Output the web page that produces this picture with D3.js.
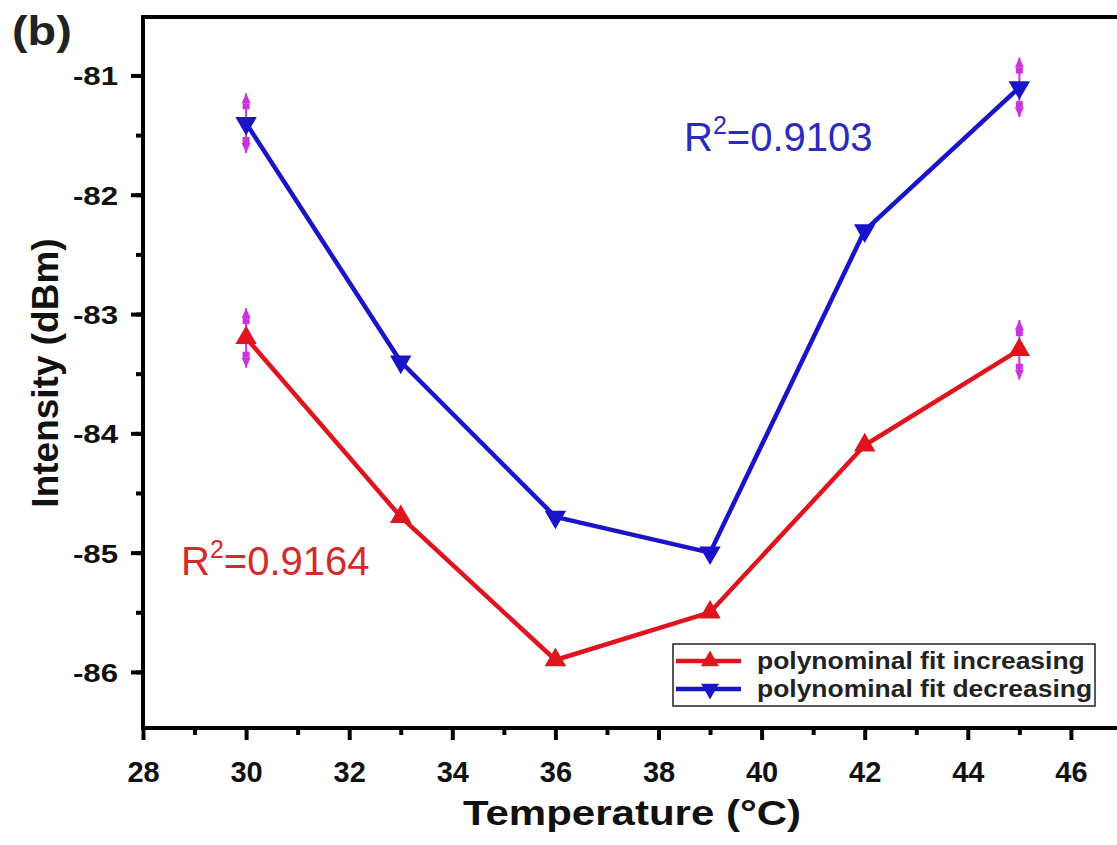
<!DOCTYPE html>
<html>
<head>
<meta charset="utf-8">
<script src="https://cdn.jsdelivr.net/npm/d3@7"></script>
<style>
  body { margin: 0; background: #fff; }
  svg { display: block; font-family: "Liberation Sans", Arial, sans-serif; }
</style>
</head>
<body>
<svg id="chart"></svg>
<script>
var temps = [30, 33, 36, 39, 42, 45];
var increasing = [-83.2, -84.7, -85.9, -85.5, -84.1, -83.3];
var decreasing = [-81.4, -83.4, -84.7, -85.0, -82.3, -81.1];
// error bars only on the end points
var errIdx = [0, 5];
var errSize = 0.25;
var xTicks = [28, 30, 32, 34, 36, 38, 40, 42, 44, 46];
var yTicks = [-81, -82, -83, -84, -85, -86];

var width = 1117, height = 845;
var svg = d3.select('#chart').attr('width', width).attr('height', height);

var x = d3.scaleLinear().domain([28, 48]).range([143, 1174]);
var y = d3.scaleLinear().domain([-86.47, -80.51]).range([728, 17]);

var red = '#e0141e', blue = '#1a14c8', mag = '#cc33dd';

// widen text horizontally (the original is a bit stretched)
function stretch(sel, f) {
    sel.each(function () {
        var L = this.getComputedTextLength();
        d3.select(this).attr('textLength', L * f).attr('lengthAdjust', 'spacingAndGlyphs');
    });
}

// frame
svg.append('rect')
    .attr('x', x(28)).attr('y', y(-80.51))
    .attr('width', x(48) - x(28)).attr('height', y(-86.47) - y(-80.51))
    .attr('fill', 'none').attr('stroke', '#000').attr('stroke-width', 4);

// axes
var xAxis = svg.append('g').attr('transform', 'translate(0,' + y(-86.47) + ')')
    .call(d3.axisBottom(x).tickValues(xTicks).tickSize(12).tickFormat(d => d));
var xMinor = svg.append('g').attr('transform', 'translate(0,' + y(-86.47) + ')')
    .call(d3.axisBottom(x).tickValues(d3.range(29, 48, 2)).tickSize(7).tickFormat(''));

var yAxis = svg.append('g').attr('transform', 'translate(' + x(28) + ',0)')
    .call(d3.axisLeft(y).tickValues(yTicks).tickSize(12).tickFormat(d => d));
var yMinor = svg.append('g').attr('transform', 'translate(' + x(28) + ',0)')
    .call(d3.axisLeft(y).tickValues(d3.range(-86, -80.6, 0.5)).tickSize(7).tickFormat(''));

[xAxis, xMinor, yAxis, yMinor].forEach(g => {
    g.select('.domain').remove();
    g.selectAll('line').attr('stroke', '#000').attr('stroke-width', 4);
    g.selectAll('text').attr('font-weight', 'bold').attr('fill', '#111');
});
xAxis.selectAll('text').attr('font-size', 29).attr('y', 0).attr('dy', 0)
    .attr('transform', 'translate(0,54)');
yAxis.selectAll('text').attr('font-size', 26).attr('x', -25).attr('dy', '0.36em');
stretch(yAxis.selectAll('text'), 1.2);

// axis titles
var xt = svg.append('text')
    .attr('x', 632).attr('y', 825)
    .attr('text-anchor', 'middle')
    .attr('font-size', 35).attr('font-weight', 'bold').attr('fill', '#111')
    .text('Temperature (°C)');
stretch(xt, 1.2);
svg.append('text')
    .attr('transform', 'translate(58,373) rotate(-90)')
    .attr('text-anchor', 'middle')
    .attr('font-size', 37).attr('font-weight', 'bold').attr('fill', '#111')
    .text('Intensity (dBm)');

var bl = svg.append('text')
    .attr('x', 12).attr('y', 45)
    .attr('font-size', 40).attr('font-weight', 'bold').attr('fill', '#222')
    .text('(b)');
stretch(bl, 1.17);

var line = d3.line().x((d, i) => x(temps[i])).y(d => y(d));

function drawSeries(vals, color, up) {
    svg.append('path')
        .datum(vals)
        .attr('d', line)
        .attr('fill', 'none').attr('stroke', color).attr('stroke-width', 4.5)
        .attr('stroke-linejoin', 'round');

    // error bars
    errIdx.forEach(i => {
        var cx = x(temps[i]);
        var y1 = y(vals[i] + errSize), y2 = y(vals[i] - errSize);
        var g = svg.append('g').attr('fill', mag).attr('stroke', mag);
        g.append('line').attr('x1', cx).attr('x2', cx).attr('y1', y1).attr('y2', y2).attr('stroke-width', 2);
        g.append('path').attr('stroke', 'none')
            .attr('d', 'M' + cx + ',' + y1 + 'l-4.5,10l9,0z');
        g.append('path').attr('stroke', 'none')
            .attr('d', 'M' + cx + ',' + y2 + 'l-4.5,-10l9,0z');
        g.append('rect').attr('stroke', 'none').attr('x', cx - 3.5).attr('y', y1 + 10).attr('width', 7).attr('height', 6);
        g.append('rect').attr('stroke', 'none').attr('x', cx - 3.5).attr('y', y2 - 16).attr('width', 7).attr('height', 6);
    });

    var sym = d3.symbol().type(d3.symbolTriangle).size(200);
    svg.selectAll(null)
        .data(vals)
        .enter()
        .append('path')
        .attr('d', sym)
        .attr('transform', (d, i) => 'translate(' + x(temps[i]) + ',' + y(d) + ')' + (up ? '' : ' rotate(180)'))
        .attr('fill', color);
}

drawSeries(increasing, red, true);
drawSeries(decreasing, blue, false);

// R² labels
function rLabel(px, py, color, val) {
    var t = svg.append('text').attr('x', px).attr('y', py)
        .attr('font-size', 40).attr('fill', color);
    t.append('tspan').text('R');
    t.append('tspan').attr('font-size', 25).attr('dy', -17).text('2');
    t.append('tspan').attr('dy', 17).text('=' + val);
}
rLabel(684, 151, '#2a2ac0', '0.9103');
rLabel(181, 575, '#d42a2a', '0.9164');

// legend
var lg = svg.append('g').attr('transform', 'translate(673,644)');
lg.append('rect').attr('width', 422).attr('height', 62)
    .attr('fill', '#fff').attr('stroke', '#222').attr('stroke-width', 1.5);
[['polynominal fit increasing', red, true], ['polynominal fit decreasing', blue, false]].forEach((d, i) => {
    var ly = 17 + i * 28;
    lg.append('line').attr('x1', 3).attr('x2', 68).attr('y1', ly).attr('y2', ly)
        .attr('stroke', d[1]).attr('stroke-width', 4.5);
    lg.append('path').attr('d', d3.symbol().type(d3.symbolTriangle).size(140))
        .attr('transform', 'translate(37,' + ly + ')' + (d[2] ? '' : ' rotate(180)'))
        .attr('fill', d[1]);
    var t = lg.append('text').attr('x', 84).attr('y', ly + 8)
        .attr('font-size', 23).attr('font-weight', 'bold').attr('fill', '#222')
        .text(d[0]);
    stretch(t, 1.15);
});
</script>
</body>
</html>
